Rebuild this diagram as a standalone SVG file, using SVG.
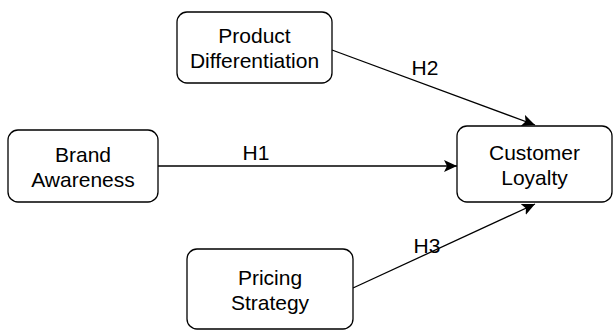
<svg xmlns="http://www.w3.org/2000/svg" width="614" height="331" viewBox="0 0 614 331">
<style>
.node rect{fill:#fff;stroke:#000;stroke-width:1.3}
text{font-family:"Liberation Sans",Arial,sans-serif;font-size:21px;fill:#000;text-anchor:middle}
.edge{stroke:#000;stroke-width:1.3;fill:none;marker-end:url(#arr)}
</style>
<defs>
<marker id="arr" viewBox="0 0 14 12" refX="13" refY="6" markerWidth="14" markerHeight="12" markerUnits="userSpaceOnUse" orient="auto"><path d="M0,0 L13,6 L0,12 L3,6 Z" fill="#000" stroke="none"/></marker>
</defs>
<rect width="614" height="331" fill="#fff"/>
<g id="connectors">
<path class="edge" d="M158,166 L457,166"/>
<path class="edge" d="M332,50 L535,125"/>
<path class="edge" d="M353,288 L535,204"/>
<text x="256" y="160">H1</text>
<text x="425" y="75">H2</text>
<text x="427" y="253">H3</text>
</g>
<g id="product" class="node"><rect x="177" y="12" width="155" height="71" rx="10"/><text x="254.5" y="43">Product</text><text x="254.5" y="68">Differentiation</text></g>
<g id="brand" class="node"><rect x="8" y="130" width="150" height="72" rx="10"/><text x="83" y="162">Brand</text><text x="83" y="187">Awareness</text></g>
<g id="customer" class="node"><rect x="457" y="126" width="155" height="76" rx="10"/><text x="534.5" y="160">Customer</text><text x="534.5" y="185">Loyalty</text></g>
<g id="pricing" class="node"><rect x="187" y="249" width="166" height="80" rx="10"/><text x="270" y="285">Pricing</text><text x="270" y="310">Strategy</text></g>
</svg>
